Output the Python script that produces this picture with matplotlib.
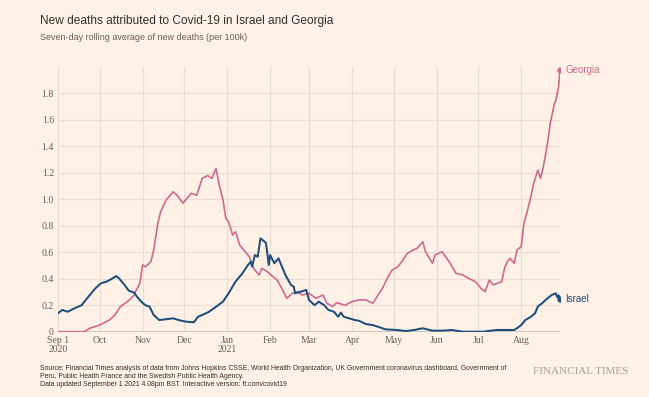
import numpy as np
import matplotlib
matplotlib.use("Agg")
import matplotlib.pyplot as plt

# days counted from 1 Sep 2020, values = deaths per 100k (7-day avg)
georgia_days = [0, 19, 23, 30, 37, 41, 45, 50, 54, 59,
                61, 63, 67, 69, 72, 74, 78, 83, 86, 90,
                96, 100, 104, 108, 111, 114, 116, 119, 121, 123,
                126, 128, 131, 134, 138, 141, 145, 147, 151, 155,
                158, 162, 165, 169, 173, 176, 181, 186, 191, 194,
                198, 201, 207, 212, 217, 222, 227, 230, 234, 238,
                241, 245, 248, 252, 256, 259, 263, 265, 270, 272,
                277, 282, 287, 292, 296, 301, 305, 308, 311, 314,
                317, 320, 322, 324, 326, 329, 331, 334, 336, 338,
                341, 343, 346, 348, 350, 353, 355, 358, 359, 361, 362]
georgia_vals = [0, 0, 0.026, 0.05, 0.088, 0.126, 0.19, 0.227, 0.264, 0.366,
                0.504, 0.49, 0.53, 0.617, 0.82, 0.906, 0.995, 1.057, 1.03, 0.97,
                1.045, 1.03, 1.158, 1.18, 1.158, 1.234, 1.12, 0.995, 0.856, 0.83,
                0.73, 0.755, 0.655, 0.617, 0.566, 0.479, 0.428, 0.479, 0.453, 0.415,
                0.39, 0.315, 0.252, 0.29, 0.302, 0.277, 0.29, 0.252, 0.277, 0.214,
                0.19, 0.219, 0.2, 0.227, 0.24, 0.24, 0.214, 0.264, 0.328, 0.415,
                0.466, 0.49, 0.53, 0.592, 0.617, 0.63, 0.68, 0.604, 0.517, 0.58,
                0.604, 0.53, 0.441, 0.428, 0.403, 0.378, 0.328, 0.302, 0.39, 0.353,
                0.366, 0.378, 0.479, 0.53, 0.554, 0.517, 0.617, 0.642, 0.819, 0.894,
                1.02, 1.12, 1.221, 1.158, 1.246, 1.423, 1.574, 1.725, 1.745, 1.85, 1.98]

israel_days = [0, 3, 7, 12, 17, 20, 24, 27, 31, 35,
               38, 42, 44, 48, 51, 55, 57, 60, 63, 66,
               69, 73, 78, 83, 87, 92, 98, 101, 104, 109,
               114, 119, 123, 128, 133, 137, 139, 140, 142, 144,
               146, 149, 150, 152, 153, 156, 159, 162, 164, 168,
               170, 171, 175, 179, 181, 185, 188, 192, 195, 199,
               202, 204, 206, 210, 214, 217, 222, 227, 232, 236,
               244, 251, 257, 263, 270, 277, 284, 292, 301, 307,
               312, 317, 324, 329, 331, 334, 337, 341, 344, 346,
               349, 353, 356, 359, 360, 361, 362]
israel_vals = [0.139, 0.164, 0.151, 0.177, 0.2, 0.24, 0.29, 0.328, 0.366, 0.378,
               0.395, 0.42, 0.403, 0.353, 0.31, 0.295, 0.264, 0.227, 0.2, 0.19,
               0.126, 0.088, 0.094, 0.101, 0.088, 0.076, 0.071, 0.113, 0.126, 0.151,
               0.189, 0.227, 0.29, 0.378, 0.441, 0.504, 0.529, 0.491, 0.579, 0.566,
               0.705, 0.68, 0.668, 0.504, 0.579, 0.517, 0.554, 0.479, 0.428, 0.353,
               0.34, 0.29, 0.302, 0.315, 0.24, 0.2, 0.227, 0.2, 0.164, 0.151,
               0.113, 0.144, 0.113, 0.101, 0.088, 0.083, 0.058, 0.05, 0.033, 0.018,
               0.013, 0.005, 0.013, 0.026, 0.008, 0.008, 0.013, 0.0, 0.0, 0.0,
               0.008, 0.013, 0.013, 0.013, 0.026, 0.05, 0.088, 0.113, 0.139, 0.19,
               0.214, 0.252, 0.277, 0.29, 0.26, 0.275, 0.247]

start = np.datetime64('2020-09-01')
month_ticks = ['2020-09-01', '2020-10-01', '2020-11-01', '2020-12-01',
               '2021-01-01', '2021-02-01', '2021-03-01', '2021-04-01',
               '2021-05-01', '2021-06-01', '2021-07-01', '2021-08-01']
month_labels = ['Sep 1\n2020', 'Oct', 'Nov', 'Dec', 'Jan\n2021', 'Feb',
                'Mar', 'Apr', 'May', 'Jun', 'Jul', 'Aug']
y_ticks = [0, 0.2, 0.4, 0.6, 0.8, 1.0, 1.2, 1.4, 1.6, 1.8]
y_labels = ['0', '0.2', '0.4', '0.6', '0.8', '1.0', '1.2', '1.4', '1.6', '1.8']

bg = '#fff1e5'
pink = '#cf6a8f'
blue = '#1f4d7c'
grey = '#66605c'

fig = plt.figure(figsize=(6.49, 3.97), dpi=100, facecolor=bg)
ax = fig.add_axes([58 / 649, 1 - 331.7 / 397, 502 / 649, 264.8 / 397])
ax.set_facecolor(bg)

g_dates = start + np.array(georgia_days).astype('timedelta64[D]')
i_dates = start + np.array(israel_days).astype('timedelta64[D]')

ax.plot(g_dates, georgia_vals, color=pink, lw=1.2, zorder=3)
ax.plot(i_dates, israel_vals, color=blue, lw=1.45, zorder=4)
ax.plot(g_dates[-1], georgia_vals[-1], 'o', color=pink, ms=3.5, zorder=5)
ax.plot(i_dates[-1], israel_vals[-1], 'o', color=blue, ms=3.5, zorder=5)

ax.annotate('Georgia', (g_dates[-1], georgia_vals[-1]), xytext=(4, 0),
            textcoords='offset points', va='center', ha='left',
            color=pink, fontsize=7, family='Liberation Sans')
ax.annotate('Israel', (i_dates[-1], israel_vals[-1]), xytext=(4, 0),
            textcoords='offset points', va='center', ha='left',
            color=blue, fontsize=7, family='Liberation Sans')

ax.set_xlim(start, start + np.timedelta64(362, 'D'))
ax.set_ylim(0, 2.0)

tick_dates = np.array(month_ticks, dtype='datetime64[D]')
ax.set_xticks(tick_dates)
ax.set_xticklabels(month_labels, fontsize=7, family='Liberation Serif',
                   color=grey, linespacing=0.95)
ax.set_yticks(y_ticks)
ax.set_yticklabels(y_labels, fontsize=7, family='Liberation Serif', color=grey)
ax.tick_params(length=0, pad=3)

ax.grid(True, color='#e9ddd2', lw=0.8, zorder=0)
for s in ax.spines.values():
    s.set_visible(False)
ax.axhline(0, color='#ccc1b7', lw=2, zorder=2)

fig.text(40 / 649, 1 - 21 / 397, 'New deaths attributed to Covid-19 in Israel and Georgia',
         fontsize=8.6, family='Liberation Sans', color='#33302e', va='center')
fig.text(40 / 649, 1 - 38 / 397, 'Seven-day rolling average of new deaths (per 100k)',
         fontsize=6.5, family='Liberation Sans', color=grey, va='center')

footer = ('Source: Financial Times analysis of data from Johns Hopkins CSSE, World Health '
          'Organization, UK Government coronavirus dashboard, Government of\n'
          'Peru, Public Health France and the Swedish Public Health Agency.\n'
          'Data updated September 1 2021 4.08pm BST. Interactive version: ft.com/covid19')
fig.text(40 / 649, 1 - 365 / 397, footer, fontsize=4.95, family='Liberation Sans',
         color='#33302e', va='top', linespacing=1.25)
fig.text(628 / 649, 1 - 371 / 397, 'FINANCIAL TIMES', fontsize=8,
         family='Liberation Serif', color='#a8a19a', va='center', ha='right')

fig.savefig('out.png', dpi=100, facecolor=bg)
